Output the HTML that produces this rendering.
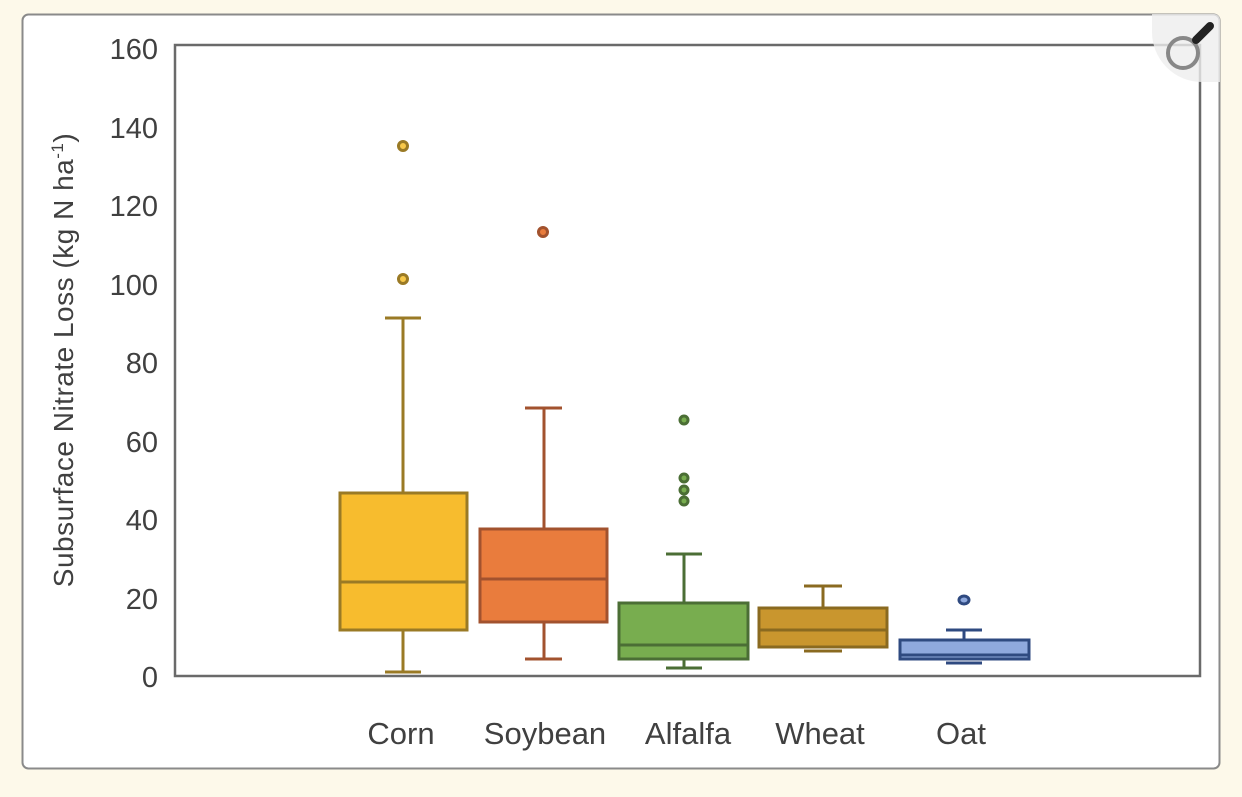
<!DOCTYPE html>
<html><head><style>
body{margin:0;background:#fdf9ea;width:1242px;height:792px;overflow:hidden}
</style></head><body>
<svg width="1242" height="792" xmlns="http://www.w3.org/2000/svg" font-family="Liberation Sans, sans-serif">
<rect x="22.5" y="14.5" width="1197" height="754" rx="6" fill="#fff" stroke="#8a8a8a" stroke-width="2"/>
<rect x="175" y="45" width="1025" height="631" fill="none" stroke="#6a6a6a" stroke-width="2.5"/>
<g fill="#404040" font-size="29" text-anchor="end">
<text x="158" y="59">160</text><text x="158" y="138">140</text><text x="158" y="216">120</text>
<text x="158" y="295">100</text><text x="158" y="373">80</text><text x="158" y="452">60</text>
<text x="158" y="530">40</text><text x="158" y="609">20</text><text x="158" y="687">0</text>
</g>
<text transform="translate(73,360) rotate(-90)" font-size="28" fill="#404040" text-anchor="middle" letter-spacing="0.5">Subsurface Nitrate Loss (kg N ha<tspan dy="-10" font-size="17">-1</tspan><tspan dy="10">)</tspan></text>
<g fill="#404040" font-size="31" text-anchor="middle">
<text x="401" y="744">Corn</text><text x="545" y="744">Soybean</text><text x="688" y="744">Alfalfa</text>
<text x="820" y="744">Wheat</text><text x="961" y="744">Oat</text>
</g>
<g stroke-width="3">
<g stroke="#9a7a25" fill="#f7bc2e">
<line x1="403" y1="318" x2="403" y2="493"/><line x1="385" y1="318" x2="421" y2="318"/>
<line x1="403" y1="630" x2="403" y2="672"/><line x1="385" y1="672" x2="421" y2="672"/>
<rect x="340" y="493" width="127" height="137"/><line x1="340" y1="582" x2="467" y2="582"/>
<circle cx="403" cy="146" r="4.5" fill="#f7c84a"/><circle cx="403" cy="279" r="4.5" fill="#f7c84a"/>
</g>
<g stroke="#a2522e" fill="#e97c3d">
<line x1="544" y1="408" x2="544" y2="529"/><line x1="525" y1="408" x2="562" y2="408"/>
<line x1="544" y1="622" x2="544" y2="659"/><line x1="525" y1="659" x2="562" y2="659"/>
<rect x="480" y="529" width="127" height="93"/><line x1="480" y1="579" x2="607" y2="579"/>
<circle cx="543" cy="232" r="4.5"/>
</g>
<g stroke="#4b6e35" fill="#78ad4f">
<line x1="684" y1="554" x2="684" y2="603"/><line x1="666" y1="554" x2="702" y2="554"/>
<line x1="684" y1="659" x2="684" y2="668"/><line x1="666" y1="668" x2="702" y2="668"/>
<rect x="619" y="603" width="129" height="56"/><line x1="619" y1="645" x2="748" y2="645"/>
<circle cx="684" cy="420" r="4"/><circle cx="684" cy="478" r="4"/><circle cx="684" cy="490" r="4"/><circle cx="684" cy="501" r="4"/>
</g>
<g stroke="#8a6a20" fill="#c9962e">
<line x1="823" y1="586" x2="823" y2="608"/><line x1="804" y1="586" x2="842" y2="586"/>
<line x1="804" y1="651" x2="842" y2="651"/>
<rect x="759" y="608" width="128" height="39"/><line x1="759" y1="630" x2="887" y2="630"/>
</g>
<g stroke="#2f4a80" fill="#8fa9dd">
<line x1="964" y1="630" x2="964" y2="640"/><line x1="946" y1="630" x2="982" y2="630"/>
<line x1="946" y1="663" x2="982" y2="663"/>
<rect x="900" y="640" width="129" height="19"/><line x1="900" y1="655" x2="1029" y2="655"/>
<ellipse cx="964" cy="600" rx="5" ry="4"/>
</g>
</g>
<path d="M1152 14 H1214 a6 6 0 0 1 6 6 V82 H1202 A50 50 0 0 1 1152 32 Z" fill="#eee" opacity="0.8"/>
<circle cx="1183" cy="53" r="15" fill="none" stroke="#888" stroke-width="4"/>
<line x1="1196" y1="40" x2="1210" y2="26" stroke="#222" stroke-width="8" stroke-linecap="round"/>
</svg>
</body></html>
